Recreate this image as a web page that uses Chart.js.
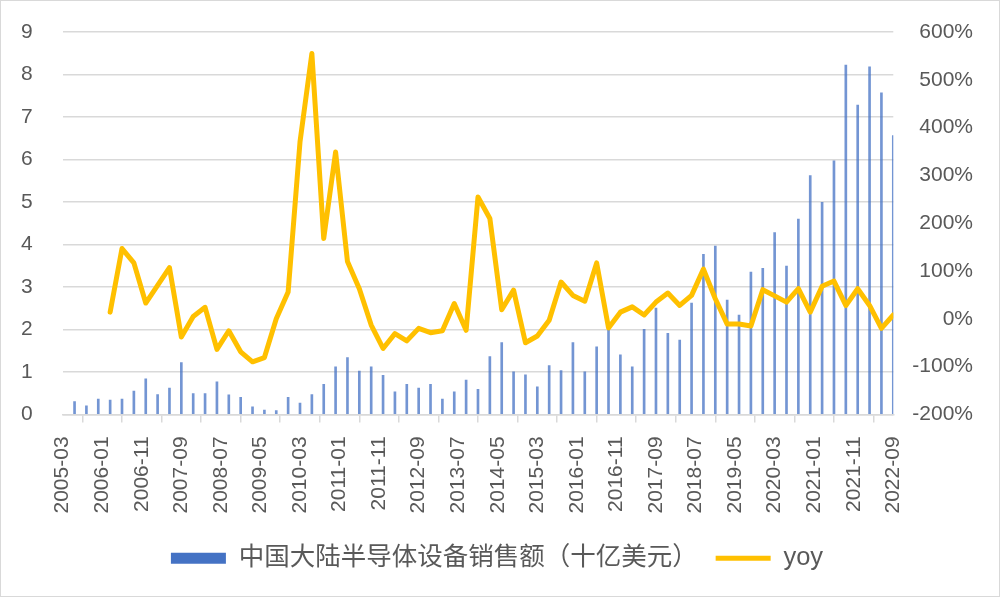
<!DOCTYPE html>
<html>
<head>
<meta charset="utf-8">
<script src="https://cdn.jsdelivr.net/npm/chart.js@4.4.1/dist/chart.umd.min.js"></script>
<style>
    html, body { margin: 0; padding: 0; background: #fff; }
    #wrap { width: 1000px; height: 597px; position: relative; }
    canvas { outline: 1px solid #d9d9d9; outline-offset: -1px; }
</style>
</head>
<body>
<div id="wrap"><canvas id="chart" width="1000" height="597"></canvas></div>
<script>
    // quarterly data, 2005-03 .. 2022-09
    var quarters = [
        '2005-03', '2005-06', '2005-09', '2005-12',
        '2006-03', '2006-06', '2006-09', '2006-12',
        '2007-03', '2007-06', '2007-09', '2007-12',
        '2008-03', '2008-06', '2008-09', '2008-12',
        '2009-03', '2009-06', '2009-09', '2009-12',
        '2010-03', '2010-06', '2010-09', '2010-12',
        '2011-03', '2011-06', '2011-09', '2011-12',
        '2012-03', '2012-06', '2012-09', '2012-12',
        '2013-03', '2013-06', '2013-09', '2013-12',
        '2014-03', '2014-06', '2014-09', '2014-12',
        '2015-03', '2015-06', '2015-09', '2015-12',
        '2016-03', '2016-06', '2016-09', '2016-12',
        '2017-03', '2017-06', '2017-09', '2017-12',
        '2018-03', '2018-06', '2018-09', '2018-12',
        '2019-03', '2019-06', '2019-09', '2019-12',
        '2020-03', '2020-06', '2020-09', '2020-12',
        '2021-03', '2021-06', '2021-09', '2021-12',
        '2022-03', '2022-06', '2022-09'
    ];

    // 中国大陆半导体设备销售额（十亿美元）
    var sales = [
        null, 0.30, 0.20, 0.36,
        0.34, 0.36, 0.55, 0.84,
        0.47, 0.62, 1.22, 0.49,
        0.49, 0.77, 0.46, 0.40,
        0.18, 0.10, 0.09, 0.40,
        0.27, 0.47, 0.71, 1.12,
        1.34, 1.02, 1.12, 0.92,
        0.53, 0.71, 0.62, 0.71,
        0.36, 0.53, 0.81, 0.59,
        1.36, 1.69, 1.00, 0.93,
        0.65, 1.15, 1.03, 1.69,
        1.00, 1.59, 1.98, 1.40,
        1.12, 2.00, 2.50, 1.91,
        1.75, 2.62, 3.77, 3.96,
        2.69, 2.34, 3.35, 3.44,
        4.28, 3.49, 4.60, 5.62,
        4.99, 5.97, 8.22, 7.28,
        8.18, 7.57, 6.56
    ];

    // yoy, %
    var yoy = [
        null, null, null, null,
        14, 147, 117, 33,
        70, 107, -38, 5,
        24, -64, -25, -69,
        -90, -81, 0, 56,
        370, 555, 168, 349,
        120, 63, -13, -62,
        -31, -46, -20, -29,
        -25, 32, -24, 255,
        210, 19, 60, -50,
        -36, -3, 77, 49,
        37, 117, -19, 14,
        25, 8, 35, 54,
        28, 49, 104, 42,
        -11, -11, -15, 61,
        48, 35, 63, 14,
        68, 79, 28, 63,
        28, -20, 8
    ];

    var leftTicks = { min: 0, max: 9, step: 1 };
    var rightTicks = { min: -200, max: 600, step: 100 };
    var xTickStep = 10; // months between labels

    var startYear = 2005, startMonth = 3;

    function monthIndex(label) {
        var p = label.split('-');
        return (parseInt(p[0], 10) - startYear) * 12 + parseInt(p[1], 10) - startMonth;
    }

    function monthLabel(idx) {
        var m = startMonth - 1 + idx;
        var y = startYear + Math.floor(m / 12);
        var mm = (m % 12) + 1;
        return y + '-' + (mm < 10 ? '0' + mm : mm);
    }

    function toPoints(values) {
        return quarters.map(function(q, i) {
            return { x: monthIndex(q), y: values[i] };
        });
    }

    // extra room between tick labels and plot (Excel style gap)
    function widenBy(px) {
        return function(scale) { scale.width += px; };
    }

    var grey = '#595959';
    var fontFamily = "'Liberation Sans', 'Noto Sans CJK SC', sans-serif";
    var lastIdx = monthIndex(quarters[quarters.length - 1]);

    new Chart(document.getElementById('chart'), {
        type: 'bar',
        data: {
            datasets: [
                {
                    type: 'bar',
                    label: '中国大陆半导体设备销售额（十亿美元）',
                    data: toPoints(sales),
                    backgroundColor: 'rgba(68, 114, 196, 0.75)',
                    borderWidth: 0,
                    barThickness: 2,
                    yAxisID: 'y',
                    order: 2
                },
                {
                    type: 'line',
                    label: 'yoy',
                    data: toPoints(yoy),
                    borderColor: '#FFC000',
                    backgroundColor: '#FFC000',
                    borderWidth: 5,
                    borderJoinStyle: 'round',
                    borderCapStyle: 'round',
                    pointRadius: 0,
                    tension: 0,
                    spanGaps: false,
                    yAxisID: 'y1',
                    order: 1
                }
            ]
        },
        options: {
            responsive: false,
            animation: false,
            layout: { padding: { left: 21, right: 27, top: 32, bottom: 16 } },
            plugins: {
                tooltip: { enabled: false },
                legend: {
                    position: 'bottom',
                    labels: {
                        usePointStyle: true,
                        pointStyleWidth: 55,
                        boxHeight: 11,
                        padding: 18,
                        color: grey,
                        font: { family: fontFamily, size: 25.5 },
                        sort: function(a, b) { return a.datasetIndex - b.datasetIndex; },
                        generateLabels: function(chart) {
                            var items = Chart.defaults.plugins.legend.labels.generateLabels(chart);
                            items.forEach(function(it) {
                                it.pointStyle = it.datasetIndex === 0 ? 'rect' : 'line';
                                if (it.datasetIndex === 0) {
                                    it.fillStyle = '#4472C4';
                                }
                            });
                            return items;
                        }
                    }
                }
            },
            scales: {
                x: {
                    type: 'linear',
                    min: 0,
                    max: lastIdx,
                    offset: false,
                    grid: {
                        drawOnChartArea: false,
                        drawTicks: true,
                        tickLength: 8,
                        color: '#d9d9d9',
                        lineWidth: 1.5
                    },
                    border: { display: true, color: '#d9d9d9', width: 1.5 },
                    ticks: {
                        stepSize: xTickStep,
                        maxTicksLimit: 100,
                        autoSkip: false,
                        minRotation: 90,
                        maxRotation: 90,
                        padding: 14,
                        color: grey,
                        font: { family: fontFamily, size: 21 },
                        callback: function(v) { return monthLabel(v); }
                    }
                },
                y: {
                    position: 'left',
                    min: leftTicks.min,
                    max: leftTicks.max,
                    afterFit: widenBy(18),
                    grid: { color: '#d9d9d9', lineWidth: 1.5, drawTicks: false },
                    border: { display: false },
                    ticks: {
                        stepSize: leftTicks.step,
                        padding: 6,
                        crossAlign: 'far',
                        color: grey,
                        font: { family: fontFamily, size: 21 }
                    }
                },
                y1: {
                    position: 'right',
                    min: rightTicks.min,
                    max: rightTicks.max,
                    afterFit: widenBy(7),
                    grid: { drawOnChartArea: false, drawTicks: false },
                    border: { display: false },
                    ticks: {
                        stepSize: rightTicks.step,
                        padding: 6,
                        crossAlign: 'far',
                        color: grey,
                        font: { family: fontFamily, size: 21 },
                        callback: function(v) { return v + '%'; }
                    }
                }
            }
        }
    });
</script>
</body>
</html>
